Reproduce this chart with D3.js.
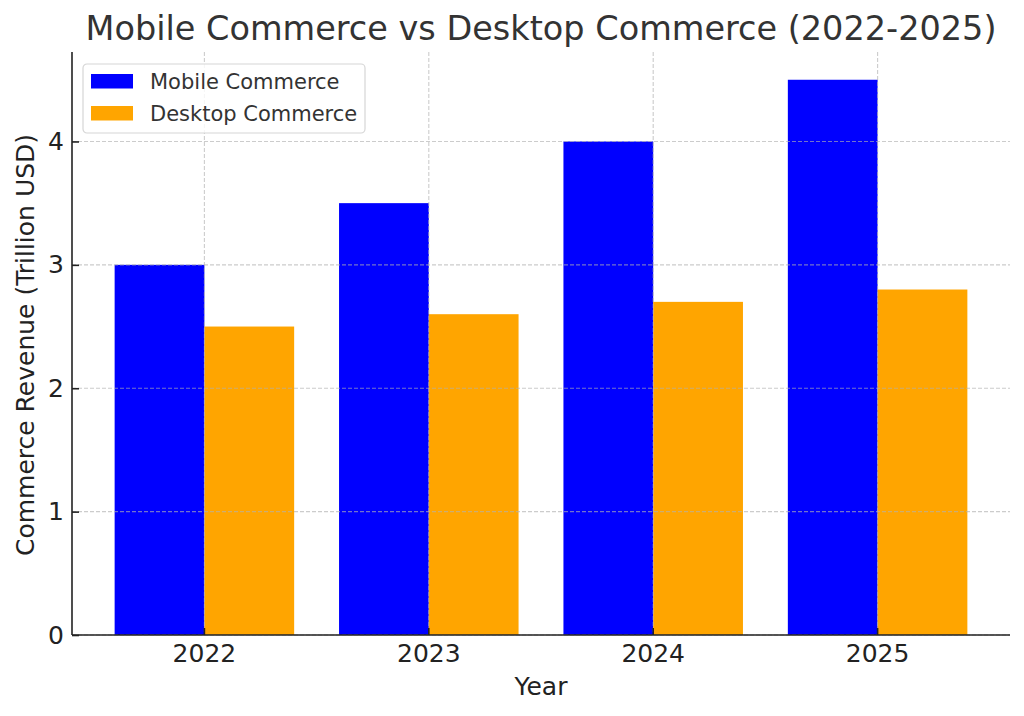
<!DOCTYPE html>
<html>
<head>
<meta charset="utf-8">
<script src="https://cdn.jsdelivr.net/npm/d3@7"></script>
<style>
  body { margin: 0; background: #fff; }
  svg { font-family: "DejaVu Sans", sans-serif; display: block; }
</style>
</head>
<body>
<div id="chart"></div>
<script>
const years = ['2022', '2023', '2024', '2025'];
const seriesNames = ['Mobile Commerce', 'Desktop Commerce'];
const mobileValues = [3.0, 3.5, 4.0, 4.5];
const desktopValues = [2.5, 2.6, 2.7, 2.8];
const yTicks = [0, 1, 2, 3, 4];
const colors = ['#0000ff', '#ffa500'];

const widthSvg = 1024;
const heightSvg = 716;
const margin = { top: 52, right: 14, bottom: 81, left: 72 };
const widthChart = widthSvg - margin.left - margin.right;
const heightChart = heightSvg - margin.top - margin.bottom;

const series = [mobileValues, desktopValues];

const scaleX = d3.scaleBand()
  .domain(years)
  .range([0, widthChart])
  .paddingInner(0.2)
  .paddingOuter(0.19);

const scaleSeries = d3.scaleBand()
  .domain(d3.range(series.length))
  .range([0, scaleX.bandwidth()]);

const scaleY = d3.scaleLinear()
  .domain([0, 4.725])
  .range([heightChart, 0]);

const svg = d3.select('#chart').append('svg')
  .attr('width', widthSvg)
  .attr('height', heightSvg);

const groupChart = svg.append('g')
  .attr('transform', `translate(${margin.left}, ${margin.top})`);

// bars
series.forEach((values, i) => {
  groupChart.append('g')
    .selectAll('rect')
    .data(values)
    .enter()
    .append('rect')
    .attr('x', (d, j) => scaleX(years[j]) + scaleSeries(i))
    .attr('width', scaleSeries.bandwidth())
    .attr('y', d => scaleY(d))
    .attr('height', d => heightChart - scaleY(d))
    .attr('fill', colors[i]);
});

// grid over bars
const groupGrid = groupChart.append('g')
  .attr('stroke', '#b0b0b0')
  .attr('stroke-opacity', 0.65)
  .attr('stroke-width', 1.1)
  .attr('stroke-dasharray', '4,2');

groupGrid.selectAll('.gy')
  .data(yTicks)
  .enter()
  .append('line')
  .attr('x1', 0)
  .attr('x2', widthChart)
  .attr('y1', d => scaleY(d))
  .attr('y2', d => scaleY(d));

groupGrid.selectAll('.gx')
  .data(years)
  .enter()
  .append('line')
  .attr('x1', d => scaleX(d) + scaleX.bandwidth() / 2)
  .attr('x2', d => scaleX(d) + scaleX.bandwidth() / 2)
  .attr('y1', 0)
  .attr('y2', heightChart);

// axes
const axisX = d3.axisBottom(scaleX)
  .tickSizeInner(-7)
  .tickSizeOuter(0)
  .tickPadding(9.5);

const axisY = d3.axisLeft(scaleY)
  .tickValues(yTicks)
  .tickFormat(d3.format('d'))
  .tickSizeInner(-7)
  .tickSizeOuter(0)
  .tickPadding(8);

const groupAxisX = groupChart.append('g')
  .attr('transform', `translate(0, ${heightChart})`)
  .call(axisX);

const groupAxisY = groupChart.append('g')
  .call(axisY);

[groupAxisX, groupAxisY].forEach(g => {
  g.select('.domain').attr('stroke', '#222').attr('stroke-width', 1.6);
  g.selectAll('.tick line').attr('stroke', '#222').attr('stroke-width', 1.6);
  g.selectAll('.tick text')
    .attr('fill', '#222')
    .attr('font-size', 25)
    .attr('font-family', '"DejaVu Sans", sans-serif');
});
groupAxisX.select('.domain').attr('d', `M0,0H${widthChart}`);
groupAxisY.select('.domain').attr('d', `M0,${heightChart}V${scaleY(4.725)}`);

// title and labels
svg.append('text')
  .attr('x', margin.left + widthChart / 2)
  .attr('y', 40)
  .attr('text-anchor', 'middle')
  .attr('font-size', 33.5)
  .attr('fill', '#333')
  .text('Mobile Commerce vs Desktop Commerce (2022-2025)');

svg.append('text')
  .attr('x', margin.left + widthChart / 2)
  .attr('y', 695)
  .attr('text-anchor', 'middle')
  .attr('font-size', 25)
  .attr('fill', '#222')
  .text('Year');

svg.append('text')
  .attr('transform', `translate(34, ${margin.top + heightChart / 2 + 1.5}) rotate(-90)`)
  .attr('text-anchor', 'middle')
  .attr('font-size', 25)
  .attr('fill', '#222')
  .text('Commerce Revenue (Trillion USD)');

// legend
const legend = svg.append('g')
  .attr('transform', 'translate(83, 64)');

legend.append('rect')
  .attr('width', 282)
  .attr('height', 69)
  .attr('rx', 4)
  .attr('fill', '#fff')
  .attr('fill-opacity', 0.8)
  .attr('stroke', '#d6d6d6')
  .attr('stroke-width', 1.2);

const legendItems = legend.selectAll('.item')
  .data(seriesNames)
  .enter()
  .append('g')
  .attr('transform', (d, i) => `translate(8, ${10 + i * 32})`);

legendItems.append('rect')
  .attr('width', 42)
  .attr('height', 14.5)
  .attr('fill', (d, i) => colors[i]);

legendItems.append('text')
  .attr('x', 59)
  .attr('y', 15)
  .attr('font-size', 21)
  .attr('fill', '#333')
  .text(d => d);
</script>
</body>
</html>
